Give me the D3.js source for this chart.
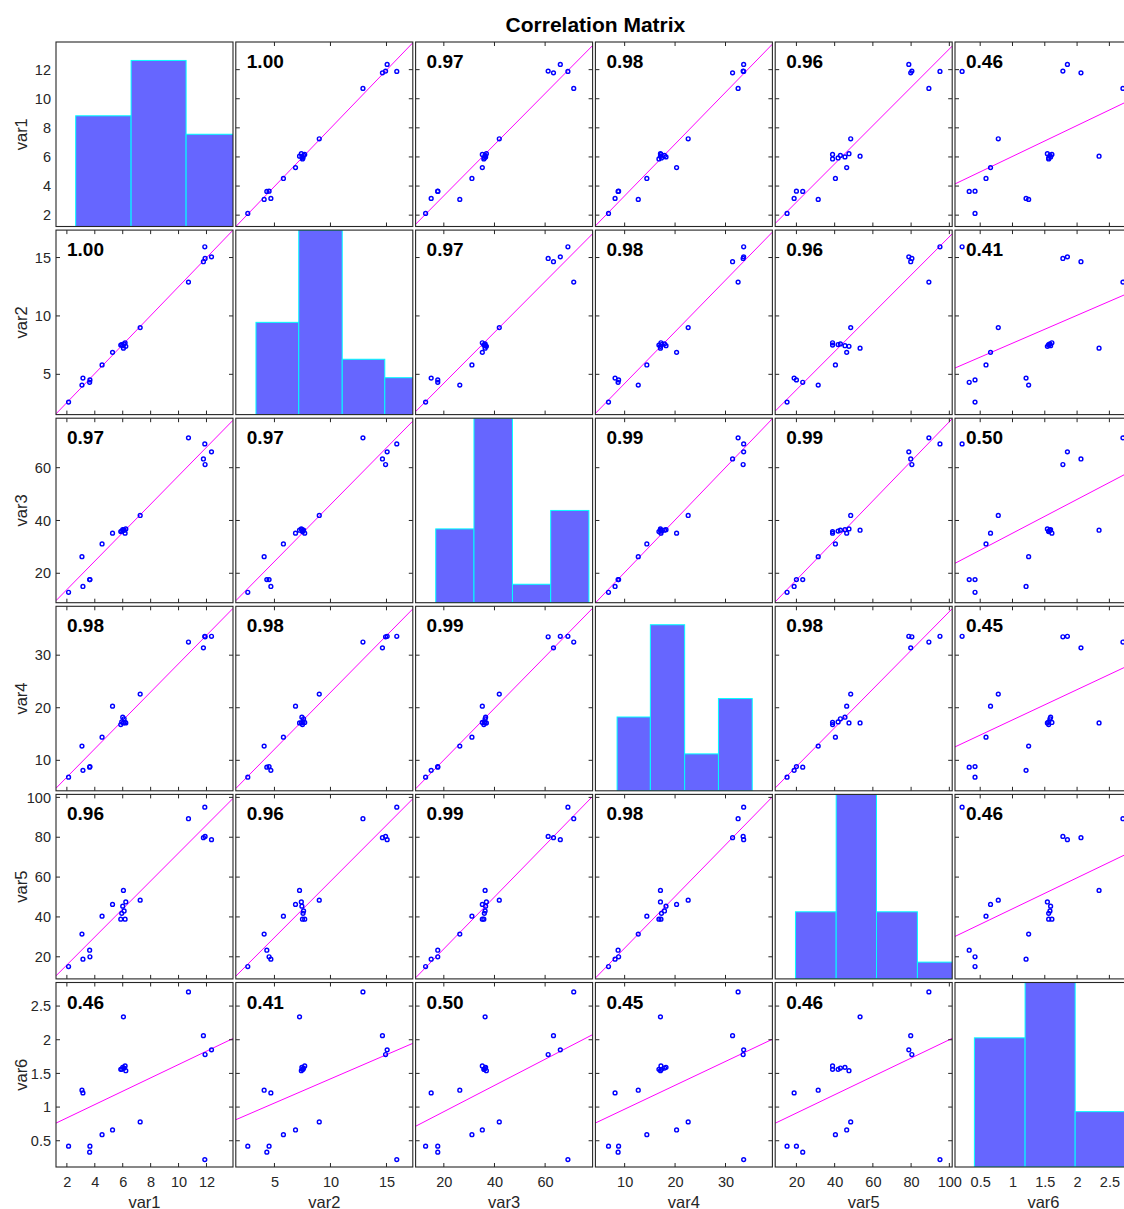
<!DOCTYPE html>
<html>
<head>
<meta charset="utf-8">
<script src="https://cdn.jsdelivr.net/npm/d3@7"></script>
<style>
  body { margin: 0; background: #ffffff; }
  text { font-family: "Liberation Sans", Arial, Helvetica, sans-serif; }
</style>
</head>
<body>
<svg id="chart" width="1124" height="1209"></svg>
<script>
// ---- data -------------------------------------------------------------
const varNames = ["var1", "var2", "var3", "var4", "var5", "var6"];

// 20 observations per variable
const var1 = [2.12, 3.65, 3.63, 3.08, 3.15, 4.52, 5.27, 7.25, 6.05, 10.71, 11.78, 11.90, 12.36, 11.88, 6.17, 5.86, 5.93, 6.10, 6.00, 6.22];
const var2 = [2.62, 4.52, 4.32, 4.08, 4.68, 5.80, 6.88, 9.00, 7.24, 12.90, 14.64, 14.92, 15.06, 15.92, 7.70, 7.50, 7.55, 7.60, 7.45, 7.40];
const var3 = [12.8, 17.6, 17.6, 26.3, 15.0, 31.1, 35.2, 41.9, 36.3, 71.3, 63.3, 61.2, 66.0, 69.0, 35.2, 35.8, 36.0, 36.3, 36.5, 36.8];
const var4 = [6.8, 8.8, 8.7, 12.7, 8.1, 14.4, 20.3, 22.6, 17.1, 32.5, 31.4, 33.5, 33.6, 33.6, 17.2, 16.8, 17.3, 17.9, 18.2, 17.1];
const var5 = [15.1, 20.0, 23.3, 31.4, 18.8, 40.4, 46.3, 48.4, 53.3, 89.3, 79.8, 80.4, 78.8, 95.1, 38.9, 38.9, 41.8, 43.0, 45.4, 47.5];
const var6 = [0.42, 0.42, 0.33, 1.25, 1.21, 0.59, 0.66, 0.78, 2.34, 2.71, 2.06, 1.78, 1.85, 0.22, 1.61, 1.56, 1.56, 1.58, 1.59, 1.54];
const series = [var1, var2, var3, var4, var5, var6];

// axis limits shared by every panel of a variable's row and column
const axisLimits = [[1.22, 13.9], [1.55, 17.35], [8.85, 78.75], [4.2, 39.3], [8.9, 101.5], [0.11, 2.85]];
const tickValues = [
  [2, 4, 6, 8, 10, 12],
  [5, 10, 15],
  [20, 40, 60],
  [10, 20, 30],
  [20, 40, 60, 80, 100],
  [0.5, 1, 1.5, 2, 2.5]
];

// pairwise correlation coefficients
const corrValues = [
  [1.00, 1.00, 0.97, 0.98, 0.96, 0.46],
  [1.00, 1.00, 0.97, 0.98, 0.96, 0.41],
  [0.97, 0.97, 1.00, 0.99, 0.99, 0.50],
  [0.98, 0.98, 0.99, 1.00, 0.98, 0.45],
  [0.96, 0.96, 0.99, 0.98, 1.00, 0.46],
  [0.46, 0.41, 0.50, 0.45, 0.46, 1.00]
];

// histogram bins on the diagonal: bin edges, counts and count-axis limit
const histEdges = [
  [2.63, 6.6, 10.54, 14.5],
  [3.35, 7.17, 11.05, 14.85, 18.6],
  [16.8, 31.9, 47.1, 62.2, 77.3],
  [8.5, 15.1, 21.9, 28.6, 35.3],
  [19.5, 40.8, 61.9, 83.3, 104.6],
  [0.41, 1.195, 1.97, 2.75]
];
const histCounts = [
  [6, 9, 5],
  [5, 10, 3, 2],
  [4, 10, 1, 5],
  [4, 9, 2, 5],
  [4, 11, 4, 1],
  [7, 10, 3]
];
const histYMax = [10, 10, 10, 10, 11, 10];

// ---- layout -----------------------------------------------------------
const gridLeft = 56, gridTop = 42;
const cellW = 177, cellH = 184.5;
const pitchX = 179.8, pitchY = 188.1;
const axisColor = "#262626";
const n = varNames.length;

const svg = d3.select("#chart");
svg.append("rect").attr("width", 1124).attr("height", 1209).attr("fill", "#ffffff");

svg.append("text")
  .attr("x", gridLeft + (n * pitchX) / 2)
  .attr("y", 32)
  .attr("text-anchor", "middle")
  .attr("font-size", 21)
  .attr("font-weight", "bold")
  .attr("fill", "#000")
  .text("Correlation Matrix");

const defs = svg.append("defs");

// least-squares line y = a + b x
function fitLine(xs, ys) {
  const mx = d3.mean(xs), my = d3.mean(ys);
  let sxy = 0, sxx = 0;
  for (let k = 0; k < xs.length; k++) {
    sxy += (xs[k] - mx) * (ys[k] - my);
    sxx += (xs[k] - mx) * (xs[k] - mx);
  }
  const b = sxy / sxx;
  return { b, a: my - b * mx };
}

for (let i = 0; i < n; i++) {
  for (let j = 0; j < n; j++) {
    const g = svg.append("g")
      .attr("transform", `translate(${gridLeft + j * pitchX},${gridTop + i * pitchY})`);
    const x = d3.scaleLinear().domain(axisLimits[j]).range([0, cellW]);
    const y = d3.scaleLinear().domain(axisLimits[i]).range([cellH, 0]);

    const clipId = `clip-${i}-${j}`;
    defs.append("clipPath").attr("id", clipId)
      .append("rect").attr("width", cellW).attr("height", cellH);
    const plot = g.append("g").attr("clip-path", `url(#${clipId})`);

    if (i === j) {
      // histogram of the variable
      const hy = d3.scaleLinear().domain([0, histYMax[i]]).range([cellH, 0]);
      const edges = histEdges[i];
      const bins = histCounts[i].map((c, k) => ({ x0: edges[k], x1: edges[k + 1], count: c }));
      plot.selectAll("rect.bar").data(bins).join("rect")
        .attr("class", "bar")
        .attr("x", d => x(d.x0))
        .attr("width", d => x(d.x1) - x(d.x0))
        .attr("y", d => hy(d.count))
        .attr("height", d => cellH - hy(d.count))
        .attr("fill", "#6666ff")
        .attr("stroke", "#00ffff")
        .attr("stroke-width", 1);
    } else {
      const xs = series[j], ys = series[i];
      const { a, b } = fitLine(xs, ys);
      const [d0, d1] = axisLimits[j];
      plot.append("line")
        .attr("x1", x(d0)).attr("y1", y(a + b * d0))
        .attr("x2", x(d1)).attr("y2", y(a + b * d1))
        .attr("stroke", "#ff00ff")
        .attr("stroke-width", 1);
      plot.selectAll("circle").data(xs.map((v, k) => [v, ys[k]])).join("circle")
        .attr("cx", d => x(d[0]))
        .attr("cy", d => y(d[1]))
        .attr("r", 1.9)
        .attr("fill", "none")
        .attr("stroke", "#0000ff")
        .attr("stroke-width", 1.45);

      // inward ticks on all four sides
      const tickLen = 4;
      const tg = g.append("g").attr("stroke", axisColor).attr("stroke-width", 1);
      tickValues[j].forEach(t => {
        const px = x(t);
        if (px < 0 || px > cellW) return;
        tg.append("line").attr("x1", px).attr("x2", px).attr("y1", cellH).attr("y2", cellH - tickLen);
        tg.append("line").attr("x1", px).attr("x2", px).attr("y1", 0).attr("y2", tickLen);
      });
      tickValues[i].forEach(t => {
        const py = y(t);
        if (py < 0 || py > cellH) return;
        tg.append("line").attr("y1", py).attr("y2", py).attr("x1", 0).attr("x2", tickLen);
        tg.append("line").attr("y1", py).attr("y2", py).attr("x1", cellW).attr("x2", cellW - tickLen);
      });

      g.append("text")
        .attr("x", 11)
        .attr("y", 26)
        .attr("font-size", 19)
        .attr("font-weight", "bold")
        .attr("fill", "#000")
        .text(corrValues[i][j].toFixed(2));
    }

    g.append("rect")
      .attr("width", cellW).attr("height", cellH)
      .attr("fill", "none")
      .attr("stroke", axisColor)
      .attr("stroke-width", 1.1);

    // tick labels along the outer edges
    if (j === 0) {
      const ax = g.append("g")
        .call(d3.axisLeft(y).tickValues(tickValues[i]).tickSize(0).tickPadding(5).tickFormat(d3.format("")));
      ax.select(".domain").remove();
      ax.selectAll("text").attr("font-size", 14.5).attr("fill", axisColor)
        .attr("font-family", "'Liberation Sans', Arial, sans-serif");
      g.append("text")
        .attr("transform", `translate(-29.5,${cellH / 2}) rotate(-90)`)
        .attr("text-anchor", "middle")
        .attr("font-size", 16.5)
        .attr("fill", axisColor)
        .text(varNames[i]);
    }
    if (i === n - 1) {
      const ax = g.append("g").attr("transform", `translate(0,${cellH})`)
        .call(d3.axisBottom(x).tickValues(tickValues[j]).tickSize(0).tickPadding(10).tickFormat(d3.format("")));
      ax.select(".domain").remove();
      ax.selectAll("text").attr("font-size", 14.5).attr("fill", axisColor)
        .attr("font-family", "'Liberation Sans', Arial, sans-serif");
      g.append("text")
        .attr("x", cellW / 2)
        .attr("y", cellH + 40.5)
        .attr("text-anchor", "middle")
        .attr("font-size", 16.5)
        .attr("fill", axisColor)
        .text(varNames[j]);
    }
  }
}
</script>
</body>
</html>
